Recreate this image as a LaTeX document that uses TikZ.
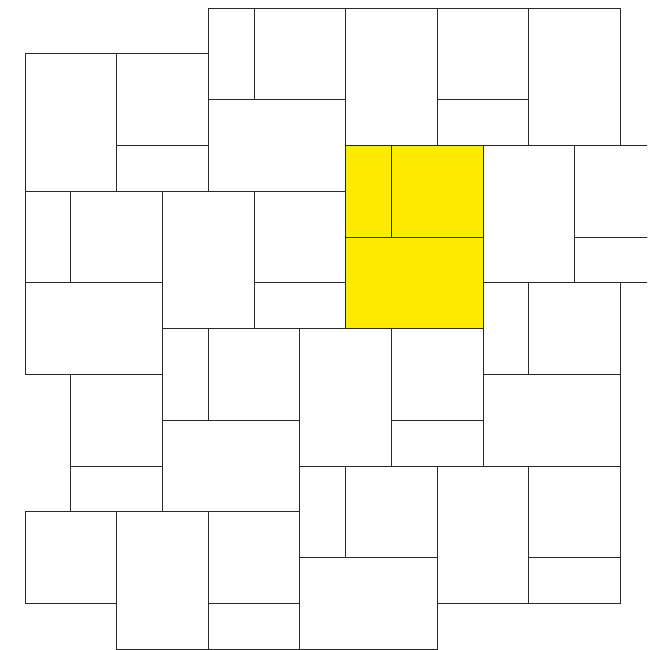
\documentclass[tikz,border=0pt]{standalone}
\usepackage{xcolor}
\definecolor{tileyellow}{RGB}{255,235,0}
\definecolor{tileline}{RGB}{40,40,40}
\usepackage{tikz}

\begin{document}
\begin{tikzpicture}[x=1cm, y=-1cm,
  tile/.style={draw=tileline, line width=0.6pt},
  hilite/.style={tile, fill=tileyellow}]
  % Frame (right column is cut off)
  \clip (-0.546,-0.175) rectangle (13.581,14.017);

  % Top row
  \draw[tile] (0,1) rectangle (2,4);
  \draw[tile] (2,1) rectangle (4,3);
  \draw[tile] (2,3) rectangle (4,4);

  \draw[tile] (4,0) rectangle (5,2);
  \draw[tile] (5,0) rectangle (7,2);
  \draw[tile] (4,2) rectangle (7,4);

  \draw[tile] (7,0) rectangle (9,3);
  \draw[tile] (9,0) rectangle (11,2);
  \draw[tile] (9,2) rectangle (11,3);

  \draw[tile] (11,0) rectangle (13,3);

  % Second row
  \draw[tile] (0,4) rectangle (1,6);
  \draw[tile] (1,4) rectangle (3,6);
  \draw[tile] (0,6) rectangle (3,8);

  \draw[tile] (3,4) rectangle (5,7);
  \draw[tile] (5,4) rectangle (7,6);
  \draw[tile] (5,6) rectangle (7,7);

  % Highlighted block
  \draw[hilite] (7,3) rectangle (8,5);
  \draw[hilite] (8,3) rectangle (10,5);
  \draw[hilite] (7,5) rectangle (10,7);

  \draw[tile] (10,3) rectangle (12,6);
  \draw[tile] (12,3) rectangle (14,5);
  \draw[tile] (12,5) rectangle (14,6);

  % Third row
  \draw[tile] (10,6) rectangle (11,8);
  \draw[tile] (11,6) rectangle (13,8);
  \draw[tile] (10,8) rectangle (13,10);

  \draw[tile] (3,7) rectangle (4,9);
  \draw[tile] (4,7) rectangle (6,9);
  \draw[tile] (3,9) rectangle (6,11);

  \draw[tile] (6,7) rectangle (8,10);
  \draw[tile] (8,7) rectangle (10,9);
  \draw[tile] (8,9) rectangle (10,10);

  \draw[tile] (1,8) rectangle (3,10);
  \draw[tile] (1,10) rectangle (3,11);

  % Bottom row
  \draw[tile] (0,11) rectangle (2,13);

  \draw[tile] (2,11) rectangle (4,14);
  \draw[tile] (4,11) rectangle (6,13);
  \draw[tile] (4,13) rectangle (6,14);

  \draw[tile] (6,10) rectangle (7,12);
  \draw[tile] (7,10) rectangle (9,12);
  \draw[tile] (6,12) rectangle (9,14);

  \draw[tile] (9,10) rectangle (11,13);
  \draw[tile] (11,10) rectangle (13,12);
  \draw[tile] (11,12) rectangle (13,13);
\end{tikzpicture}
\end{document}
